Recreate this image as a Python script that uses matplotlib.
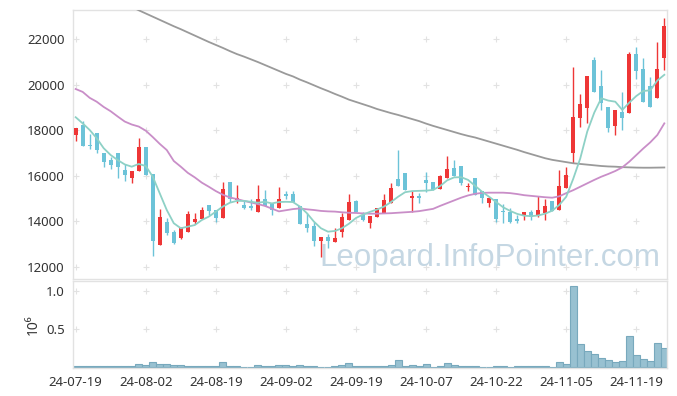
import matplotlib
matplotlib.use('Agg')
import matplotlib.pyplot as plt
import numpy as np

plt.rcParams['font.family'] = ['Noto Sans', 'DejaVu Sans']

dates = ['24-07-19', '24-07-22', '24-07-23', '24-07-24', '24-07-25', '24-07-26', '24-07-29', '24-07-30', '24-07-31',
         '24-08-01', '24-08-02', '24-08-05', '24-08-06', '24-08-07', '24-08-08', '24-08-09', '24-08-12', '24-08-13',
         '24-08-14', '24-08-16', '24-08-19', '24-08-20', '24-08-21', '24-08-22', '24-08-23', '24-08-26', '24-08-27',
         '24-08-28', '24-08-29', '24-08-30', '24-09-02', '24-09-03', '24-09-04', '24-09-05', '24-09-06', '24-09-09',
         '24-09-10', '24-09-11', '24-09-12', '24-09-13', '24-09-19', '24-09-20', '24-09-23', '24-09-24', '24-09-25',
         '24-09-26', '24-09-27', '24-09-30', '24-10-02', '24-10-04', '24-10-07', '24-10-08', '24-10-10', '24-10-11',
         '24-10-14', '24-10-15', '24-10-16', '24-10-17', '24-10-18', '24-10-21', '24-10-22', '24-10-23', '24-10-24',
         '24-10-25', '24-10-28', '24-10-29', '24-10-30', '24-10-31', '24-11-01', '24-11-04', '24-11-05', '24-11-06',
         '24-11-07', '24-11-08', '24-11-11', '24-11-12', '24-11-13', '24-11-14', '24-11-15', '24-11-18', '24-11-19',
         '24-11-20', '24-11-21', '24-11-22', '24-11-25']

opens = [17790, 18230, 17360, 17880, 17000, 16690, 17000, 16250, 15920, 16220,
         17260, 16070, 12970, 13970, 13530, 13290, 13550, 13960, 14110, 14720,
         14500, 14140, 15710, 14940, 14710, 14680, 14400, 14980, 14750, 14600,
         15200, 15200, 14680, 13890, 13800, 13150, 13300, 13080, 13550, 14060,
         14900, 14280, 13920, 14210, 14380, 14820, 15850, 16110, 15040, 15110,
         15820, 15740, 15410, 15890, 16330, 16440, 15500, 15890, 15320, 14820,
         14980, 14460, 14410, 14090, 14240, 14430, 14250, 14360, 14910, 14500,
         15480, 16990, 18550, 18990, 21080, 19950, 19030, 18200, 18790, 18770,
         21330, 20680, 19950, 19400, 21150]

closes = [18080, 17320, 17290, 17150, 16590, 16490, 16400, 16030, 16210, 17260,
          16050, 13140, 14180, 13500, 13040, 13700, 14320, 14100, 14500, 14460,
          14140, 15410, 14970, 15030, 14570, 14580, 14980, 14680, 14500, 14980,
          15130, 14860, 13870, 13720, 13150, 13300, 13150, 13260, 14180, 14850,
          14430, 14040, 14240, 14570, 14940, 15450, 15550, 15370, 15110, 15040,
          15700, 15380, 15990, 16290, 15990, 15670, 15570, 15160, 15010, 15010,
          14090, 14400, 13990, 14030, 14430, 14210, 14500, 14680, 14470, 15550,
          16040, 18590, 19140, 20380, 19690, 19180, 18110, 18890, 18550, 21330,
          20600, 19250, 19030, 20680, 22570]

highs = [18100, 18400, 17830, 17880, 17000, 16810, 17000, 16500, 16210, 17650,
         17260, 16070, 14540, 14140, 13620, 13770, 14460, 14360, 14630, 14720,
         14500, 15710, 15710, 15600, 14900, 14970, 15600, 15380, 14750, 15500,
         15350, 15320, 14680, 14360, 13990, 13300, 13450, 13700, 14360, 15190,
         14940, 14430, 14240, 14570, 15200, 15700, 17130, 16110, 15350, 15260,
         16180, 15740, 16040, 16870, 16690, 16440, 15700, 15890, 15320, 15080,
         14980, 14760, 14570, 14280, 14430, 14500, 15110, 14970, 14910, 16250,
         16400, 20790, 19580, 20380, 21220, 20640, 19030, 18890, 19690, 21440,
         21660, 21150, 20350, 21880, 22910]

lows = [17530, 17320, 17190, 17010, 16400, 16290, 15890, 15790, 15670, 16220,
        16050, 12500, 12970, 13390, 13000, 13220, 13550, 13890, 14110, 14280,
        13960, 14140, 14860, 14820, 14530, 14500, 14400, 14680, 14280, 14600,
        14980, 14860, 13870, 13550, 12930, 12450, 12820, 13080, 13330, 14060,
        14430, 14000, 13720, 14210, 14380, 14820, 15550, 15370, 14430, 14820,
        15300, 15380, 15410, 15890, 15990, 15600, 15350, 15160, 14790, 14650,
        13990, 13940, 13920, 13920, 14060, 14060, 14210, 14060, 14470, 14500,
        15480, 16550, 18150, 18300, 19690, 18890, 17930, 17790, 18010, 18770,
        20250, 19250, 19030, 19400, 20640]

volume_m = [0.015, 0.012, 0.012, 0.015, 0.012, 0.012, 0.015, 0.012, 0.015, 0.040,
            0.030, 0.070, 0.045, 0.045, 0.035, 0.035, 0.015, 0.012, 0.012, 0.015,
            0.012, 0.070, 0.015, 0.015, 0.004, 0.004, 0.030, 0.015, 0.012, 0.030,
            0.030, 0.015, 0.030, 0.015, 0.012, 0.004, 0.004, 0.015, 0.030, 0.060,
            0.015, 0.012, 0.012, 0.015, 0.015, 0.030, 0.100, 0.015, 0.030, 0.015,
            0.045, 0.004, 0.015, 0.050, 0.035, 0.015, 0.015, 0.012, 0.004, 0.004,
            0.015, 0.015, 0.004, 0.015, 0.012, 0.015, 0.015, 0.012, 0.004, 0.066,
            0.040, 1.070, 0.300, 0.220, 0.170, 0.120, 0.090, 0.066, 0.083, 0.410,
            0.160, 0.105, 0.079, 0.316, 0.250]

ma_short = [18570, 18300, 18010, 17650, 17210, 16910, 16690, 16500, 16400, 16520,
            16430, 15960, 15230, 14500, 13920, 13700, 13770, 13840, 14060, 14210,
            14430, 14650, 14820, 14900, 14900, 14860, 14820, 14860, 14790, 14850,
            14860, 14850, 14650, 14360, 13990, 13700, 13550, 13580, 13700, 13900,
            14150, 14300, 14420, 14520, 14650, 14850, 15080, 15280, 15330, 15340,
            15350, 15380, 15550, 15800, 15930, 15940, 15820, 15560, 15300, 15080,
            14850, 14620, 14460, 14330, 14250, 14230, 14260, 14340, 14470, 14720,
            15080, 15870, 16760, 17940, 18770, 19400, 19300, 19250, 18890, 19210,
            19500, 19720, 19750, 20180, 20430]

ma_mid = [19807, 19680, 19420, 19250, 19020, 18830, 18600, 18380, 18250, 18160,
          17980, 17700, 17400, 17130, 16650, 16400, 16130, 15930, 15700, 15520,
          15330, 15170, 15050, 14980, 14900, 14830, 14760, 14680, 14560, 14440,
          14490, 14540, 14570, 14530, 14500, 14460, 14440, 14430, 14400, 14380,
          14370, 14350, 14340, 14340, 14350, 14360, 14380, 14400, 14420, 14450,
          14500, 14550, 14680, 14800, 14920, 15040, 15140, 15210, 15250, 15260,
          15260, 15260, 15240, 15200, 15150, 15120, 15090, 15060, 15040, 15100,
          15240, 15370, 15520, 15670, 15820, 15960, 16080, 16210, 16370, 16620,
          16910, 17200, 17470, 17790, 18300]

ma_long = [24540, 24400, 24260, 24120, 23970, 23830, 23690, 23550, 23410, 23260,
           23120, 22980, 22840, 22700, 22560, 22430, 22290, 22150, 22010, 21870,
           21740, 21610, 21470, 21340, 21230, 21110, 20990, 20860, 20730, 20600,
           20470, 20360, 20220, 20100, 19970, 19840, 19720, 19590, 19470, 19340,
           19240, 19140, 19040, 18930, 18840, 18750, 18670, 18580, 18490, 18400,
           18290, 18190, 18100, 18010, 17920, 17830, 17750, 17680, 17590, 17500,
           17410, 17320, 17230, 17140, 17040, 16950, 16860, 16770, 16700, 16650,
           16600, 16550, 16520, 16490, 16460, 16430, 16410, 16400, 16380, 16370,
           16360, 16355, 16355, 16360, 16365]

price_ticks = [12000, 14000, 16000, 18000, 20000, 22000]
vol_ticks = [0.5, 1.0]

W, H = 677, 396
fig = plt.figure(figsize=(W / 100, H / 100), dpi=100)
ax = fig.add_axes([73 / W, 1 - 279 / H, (667 - 73) / W, (279 - 10) / H])
axv = fig.add_axes([73 / W, 1 - 368 / H, (667 - 73) / W, (368 - 281) / H], sharex=ax)

x = np.arange(len(dates))
o = np.array(opens, float)
c = np.array(closes, float)
up = c >= o
RED = '#ee3636'
BLUE = '#6cc3d8'
cols = np.where(up, RED, BLUE)

ax.vlines(x, lows, highs, colors=cols, linewidth=1.0, zorder=2)
body_bottom = np.minimum(o, c)
body_h = np.maximum(np.abs(c - o), 60)
ax.bar(x, body_h, bottom=body_bottom, width=0.6, color=cols, linewidth=0, zorder=3)

ax.plot(x, ma_long, color='#9a9a9a', lw=1.3, zorder=4)
ax.plot(x, ma_mid, color='#c98ec8', lw=1.3, zorder=4)
ax.plot(x, ma_short, color='#8ed1c6', lw=1.3, zorder=4)

ax.text(0.988, 0.022, 'Leopard.InfoPointer.com', transform=ax.transAxes, ha='right', va='bottom',
        fontsize=22.5, color='#c5d7e3', family=['Liberation Sans', 'DejaVu Sans'], zorder=1)

xt = list(range(0, len(dates), 10))
for yv in price_ticks:
    ax.plot(xt, [yv] * len(xt), '+', ms=4, mew=0.8, color='#e2e2e2', zorder=0.5)
for yv in vol_ticks:
    axv.plot(xt, [yv] * len(xt), '+', ms=4, mew=0.8, color='#e2e2e2', zorder=0.5)

axv.bar(x, volume_m, width=1.0, color='#98c1d1', edgecolor='#78a9bd', linewidth=0.8, zorder=2)

ax.set_xlim(-0.38, len(dates) - 1 + 0.38)
ax.set_ylim(11474, 23272)
axv.set_ylim(-0.01, 1.135)

ax.set_yticks(price_ticks)
ax.set_yticklabels([str(v) for v in price_ticks])
axv.set_yticks(vol_ticks)
axv.set_yticklabels(['0.5', '1.0'])
axv.set_xticks(xt)
axv.set_xticklabels([dates[i] for i in xt])
plt.setp(ax.get_xticklabels(), visible=False)

for a in (ax, axv):
    a.tick_params(length=0, pad=6, labelsize=9.5, colors='#333333')
    for s in a.spines.values():
        s.set_color('#e2e2e2')
        s.set_linewidth(1.0)

axv.set_ylabel('10⁶', fontsize=10, color='#333333', labelpad=4)

fig.savefig('out.png', dpi=100)
